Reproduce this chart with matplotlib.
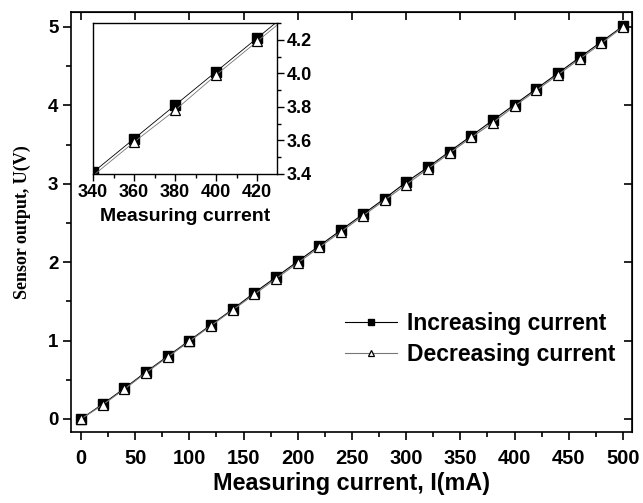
import matplotlib
matplotlib.use("Agg")
import matplotlib.pyplot as plt
import numpy as np
from matplotlib.ticker import MultipleLocator, FormatStrFormatter

current = np.arange(0, 501, 20)
u_increasing = [0.00, 0.19, 0.39, 0.60, 0.80, 1.00, 1.20, 1.40, 1.61, 1.81,
                2.01, 2.21, 2.41, 2.61, 2.81, 3.02, 3.21, 3.41, 3.61, 3.81,
                4.01, 4.21, 4.41, 4.61, 4.81, 5.01]
u_decreasing = [0.00, 0.18, 0.38, 0.59, 0.79, 0.99, 1.19, 1.39, 1.59, 1.79,
                1.99, 2.19, 2.39, 2.59, 2.79, 2.99, 3.19, 3.39, 3.59, 3.78,
                3.99, 4.19, 4.39, 4.59, 4.79, 5.00]

plt.rcParams['font.family'] = ['Liberation Sans', 'DejaVu Sans']
plt.rcParams['font.weight'] = 'bold'

fig = plt.figure(figsize=(6.43, 5.03), dpi=100)
ax = fig.add_axes([71/643, 1 - 432/503, (632-71)/643, (432-12)/503])

ax.plot(current, u_increasing, '-', color='black', lw=0.8, marker='s', ms=7,
        mfc='black', mec='black', label='Increasing current')
ax.plot(current, u_decreasing, '-', color='#777777', lw=0.8, marker='^', ms=7,
        mfc='white', mec='black', mew=0.9, label='Decreasing current')

ax.set_xlim(-9.2, 508.3)
ax.set_ylim(-0.166, 5.19)
ax.xaxis.set_major_locator(MultipleLocator(50))
ax.xaxis.set_minor_locator(MultipleLocator(25))
ax.yaxis.set_major_locator(MultipleLocator(1))
ax.yaxis.set_minor_locator(MultipleLocator(0.5))
ax.tick_params(which='both', direction='out', width=1.2)
ax.tick_params(which='major', length=6)
ax.tick_params(which='minor', length=3.5)
ax.tick_params(axis='x', labelsize=14.5, pad=6)
ax.tick_params(axis='y', labelsize=13.5, pad=3)
for s in ax.spines.values():
    s.set_linewidth(1.2)

# inward ticks on top and right at major positions
top = ax.secondary_xaxis('top')
top.set_xticks(np.arange(0, 501, 50))
top.tick_params(direction='in', length=6, width=1.2, labeltop=False)
right = ax.secondary_yaxis('right')
right.set_yticks(np.arange(0, 6, 1))
right.tick_params(direction='in', length=6, width=1.2, labelright=False)

ax.set_xlabel('Measuring current, I(mA)', fontsize=16.8, fontweight='bold', labelpad=3)
ax.set_ylabel('Sensor output, U(V)', fontsize=13, fontweight='bold',
              family=['Liberation Serif'], labelpad=12)

ax.legend(loc='center left', bbox_to_anchor=(0.488, 0.222), frameon=False,
          fontsize=16.5, handlelength=2.3, handletextpad=0.4, labelspacing=0.35,
          borderpad=0, borderaxespad=0, markerscale=0.7)

# inset
ins = fig.add_axes([93/643, 1 - 174/503, (277-93)/643, (174-23)/503])
ins.plot(current, u_increasing, '-', color='black', lw=0.6, marker='s', ms=7,
         mfc='black', mec='black')
ins.plot(current, u_decreasing, '-', color='#777777', lw=0.6, marker='^', ms=7,
         mfc='white', mec='black', mew=0.9)
ins.set_xlim(340, 429.7)
ins.set_ylim(3.4, 4.3)
ins.xaxis.set_major_locator(MultipleLocator(20))
ins.xaxis.set_minor_locator(MultipleLocator(10))
ins.yaxis.set_major_locator(MultipleLocator(0.2))
ins.yaxis.set_minor_locator(MultipleLocator(0.1))
ins.yaxis.tick_right()
ins.yaxis.set_major_formatter(FormatStrFormatter('%.1f'))
ins.tick_params(which='both', direction='out', width=1.0, labelsize=13, pad=2)
ins.tick_params(which='major', length=5)
ins.tick_params(which='minor', length=3)
ins.set_xlabel('Measuring current', fontsize=14, fontweight='bold', labelpad=5)
for s in ins.spines.values():
    s.set_linewidth(1.0)

fig.savefig('out.png', dpi=100)
